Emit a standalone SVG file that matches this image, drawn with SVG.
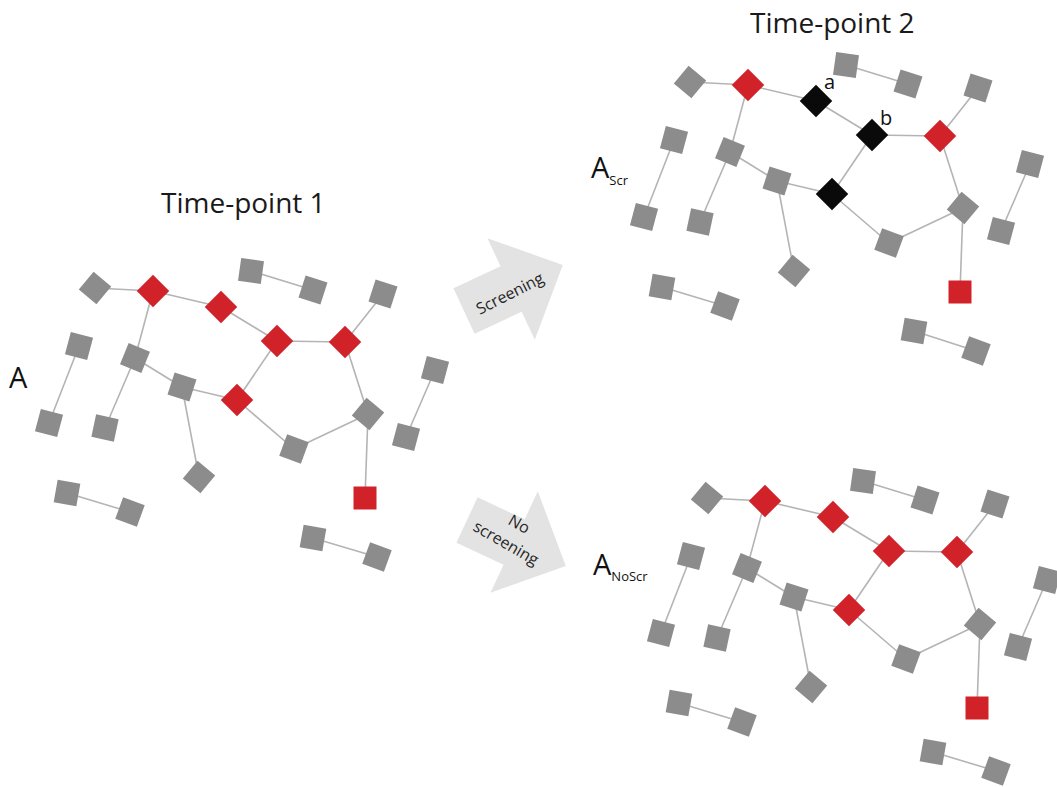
<svg xmlns="http://www.w3.org/2000/svg" width="1057" height="787" viewBox="0 0 1057 787">
  <style>
    .edge { stroke: #b4b4b4; stroke-width: 1.6; fill: none; }
    .gray { fill: #8c8c8c; }
    .red { fill: #d1222a; }
    .black { fill: #0a0a0a; }
    .title { font-family: "Open Sans", "Liberation Sans", sans-serif; font-size: 28px; fill: #1a1a1a; }
    .lbl { font-family: "Open Sans", "Liberation Sans", sans-serif; font-size: 29px; fill: #111; }
    .sub { font-family: "Open Sans", "Liberation Sans", sans-serif; font-size: 13px; fill: #111; }
    .tag { font-family: "Open Sans", "Liberation Sans", sans-serif; font-size: 20px; fill: #111; }
    .arrow { fill: #e3e3e3; }
    .arrowtxt { font-family: "Open Sans", "Liberation Sans", sans-serif; font-size: 16px; fill: #262626; text-anchor: middle; }
  </style>
  <defs>
    <rect id="sq" x="-11.5" y="-11.5" width="23" height="23"/>
    <polygon id="blockArrow" points="0,-25 52,-25 52,-56 109,0 52,56 52,25 0,25"/>
  </defs>

  <rect width="1057" height="787" fill="#ffffff"/>

  <!-- headings and panel labels -->
  <text class="title" x="161" y="213" font-size="27">Time-point 1</text>
  <text class="title" x="750" y="33">Time-point 2</text>
  <text class="lbl" x="9" y="388">A</text>
  <text class="lbl" x="591" y="178">A<tspan class="sub" dy="7">Scr</tspan></text>
  <text class="lbl" x="593" y="575">A<tspan class="sub" dy="6">NoScr</tspan></text>

  <!-- transition arrows -->
  <g id="arrow-screening" transform="translate(464,311) rotate(-25)">
    <use href="#blockArrow" class="arrow"/>
    <text class="arrowtxt" x="49" y="9" transform="rotate(-2 49 4)">Screening</text>
  </g>
  <g id="arrow-no-screening" transform="translate(467,520) rotate(25)">
    <use href="#blockArrow" class="arrow"/>
    <g transform="translate(46,-6) rotate(5)">
      <text class="arrowtxt" x="2" y="-7">No</text>
      <text class="arrowtxt" x="0" y="16">screening</text>
    </g>
  </g>

  <!-- ===== Network at time-point 1 ===== -->
  <g id="net-t1">
    <g id="t1-connectors">
      <line class="edge" x1="95" y1="288" x2="153" y2="291"/>
      <line class="edge" x1="153" y1="291" x2="221" y2="307"/>
      <line class="edge" x1="221" y1="307" x2="277" y2="341"/>
      <line class="edge" x1="277" y1="341" x2="345" y2="342"/>
      <line class="edge" x1="345" y1="342" x2="383" y2="294"/>
      <line class="edge" x1="153" y1="291" x2="135" y2="358"/>
      <line class="edge" x1="135" y1="358" x2="105" y2="428"/>
      <line class="edge" x1="135" y1="358" x2="182" y2="387"/>
      <line class="edge" x1="182" y1="387" x2="237" y2="400"/>
      <line class="edge" x1="182" y1="387" x2="199" y2="477"/>
      <line class="edge" x1="237" y1="400" x2="277" y2="341"/>
      <line class="edge" x1="237" y1="400" x2="294" y2="449"/>
      <line class="edge" x1="294" y1="449" x2="368" y2="414"/>
      <line class="edge" x1="345" y1="342" x2="368" y2="414"/>
      <line class="edge" x1="368" y1="414" x2="365" y2="498"/>
      <line class="edge" x1="251" y1="271" x2="313" y2="290"/>
      <line class="edge" x1="79" y1="346" x2="49" y2="423"/>
      <line class="edge" x1="435" y1="370" x2="406" y2="437"/>
      <line class="edge" x1="67" y1="493" x2="130" y2="512"/>
      <line class="edge" x1="313" y1="538" x2="377" y2="557"/>
    </g>
    <g id="t1-n1" transform="translate(95,288) rotate(40)"><use href="#sq" class="gray"/></g>
    <g id="t1-n2" transform="translate(153,291) rotate(45)"><use href="#sq" class="red"/></g>
    <g id="t1-n3" transform="translate(221,307) rotate(45)"><use href="#sq" class="red"/></g>
    <g id="t1-n4" transform="translate(277,341) rotate(45)"><use href="#sq" class="red"/></g>
    <g id="t1-n5" transform="translate(345,342) rotate(45)"><use href="#sq" class="red"/></g>
    <g id="t1-n6" transform="translate(237,400) rotate(45)"><use href="#sq" class="red"/></g>
    <g id="t1-n7" transform="translate(251,271) rotate(8)"><use href="#sq" class="gray"/></g>
    <g id="t1-n8" transform="translate(313,290) rotate(18)"><use href="#sq" class="gray"/></g>
    <g id="t1-n9" transform="translate(383,294) rotate(18)"><use href="#sq" class="gray"/></g>
    <g id="t1-n10" transform="translate(79,346) rotate(15)"><use href="#sq" class="gray"/></g>
    <g id="t1-n11" transform="translate(49,423) rotate(15)"><use href="#sq" class="gray"/></g>
    <g id="t1-n12" transform="translate(135,358) rotate(22)"><use href="#sq" class="gray"/></g>
    <g id="t1-n13" transform="translate(105,428) rotate(12)"><use href="#sq" class="gray"/></g>
    <g id="t1-n14" transform="translate(182,387) rotate(18)"><use href="#sq" class="gray"/></g>
    <g id="t1-n15" transform="translate(199,477) rotate(40)"><use href="#sq" class="gray"/></g>
    <g id="t1-n16" transform="translate(294,449) rotate(20)"><use href="#sq" class="gray"/></g>
    <g id="t1-n17" transform="translate(368,414) rotate(40)"><use href="#sq" class="gray"/></g>
    <g id="t1-n18" transform="translate(365,498)"><use href="#sq" class="red"/></g>
    <g id="t1-n19" transform="translate(435,370) rotate(15)"><use href="#sq" class="gray"/></g>
    <g id="t1-n20" transform="translate(406,437) rotate(15)"><use href="#sq" class="gray"/></g>
    <g id="t1-n21" transform="translate(67,493) rotate(10)"><use href="#sq" class="gray"/></g>
    <g id="t1-n22" transform="translate(130,512) rotate(20)"><use href="#sq" class="gray"/></g>
    <g id="t1-n23" transform="translate(313,538) rotate(10)"><use href="#sq" class="gray"/></g>
    <g id="t1-n24" transform="translate(377,557) rotate(20)"><use href="#sq" class="gray"/></g>
  </g>

  <!-- ===== Network at time-point 2, after screening ===== -->
  <g id="net-scr" transform="translate(595,-206)">
    <g id="scr-connectors">
      <line class="edge" x1="95" y1="288" x2="153" y2="291"/>
      <line class="edge" x1="153" y1="291" x2="221" y2="307"/>
      <line class="edge" x1="221" y1="307" x2="277" y2="341"/>
      <line class="edge" x1="277" y1="341" x2="345" y2="342"/>
      <line class="edge" x1="345" y1="342" x2="383" y2="294"/>
      <line class="edge" x1="153" y1="291" x2="135" y2="358"/>
      <line class="edge" x1="135" y1="358" x2="105" y2="428"/>
      <line class="edge" x1="135" y1="358" x2="182" y2="387"/>
      <line class="edge" x1="182" y1="387" x2="237" y2="400"/>
      <line class="edge" x1="182" y1="387" x2="199" y2="477"/>
      <line class="edge" x1="237" y1="400" x2="277" y2="341"/>
      <line class="edge" x1="237" y1="400" x2="294" y2="449"/>
      <line class="edge" x1="294" y1="449" x2="368" y2="414"/>
      <line class="edge" x1="345" y1="342" x2="368" y2="414"/>
      <line class="edge" x1="368" y1="414" x2="365" y2="498"/>
      <line class="edge" x1="251" y1="271" x2="313" y2="290"/>
      <line class="edge" x1="79" y1="346" x2="49" y2="423"/>
      <line class="edge" x1="435" y1="370" x2="406" y2="437"/>
      <line class="edge" x1="67" y1="493" x2="130" y2="512"/>
      <line class="edge" x1="319" y1="537" x2="381" y2="557"/>
    </g>
    <g id="scr-n1" transform="translate(95,288) rotate(40)"><use href="#sq" class="gray"/></g>
    <g id="scr-n2" transform="translate(153,291) rotate(45)"><use href="#sq" class="red"/></g>
    <g id="scr-n3" transform="translate(221,307) rotate(45)"><use href="#sq" class="black"/></g>
    <g id="scr-n4" transform="translate(277,341) rotate(45)"><use href="#sq" class="black"/></g>
    <g id="scr-n5" transform="translate(345,342) rotate(45)"><use href="#sq" class="red"/></g>
    <g id="scr-n6" transform="translate(237,400) rotate(45)"><use href="#sq" class="black"/></g>
    <g id="scr-n7" transform="translate(251,271) rotate(8)"><use href="#sq" class="gray"/></g>
    <g id="scr-n8" transform="translate(313,290) rotate(18)"><use href="#sq" class="gray"/></g>
    <g id="scr-n9" transform="translate(383,294) rotate(18)"><use href="#sq" class="gray"/></g>
    <g id="scr-n10" transform="translate(79,346) rotate(15)"><use href="#sq" class="gray"/></g>
    <g id="scr-n11" transform="translate(49,423) rotate(15)"><use href="#sq" class="gray"/></g>
    <g id="scr-n12" transform="translate(135,358) rotate(22)"><use href="#sq" class="gray"/></g>
    <g id="scr-n13" transform="translate(105,428) rotate(12)"><use href="#sq" class="gray"/></g>
    <g id="scr-n14" transform="translate(182,387) rotate(18)"><use href="#sq" class="gray"/></g>
    <g id="scr-n15" transform="translate(199,477) rotate(40)"><use href="#sq" class="gray"/></g>
    <g id="scr-n16" transform="translate(294,449) rotate(20)"><use href="#sq" class="gray"/></g>
    <g id="scr-n17" transform="translate(368,414) rotate(40)"><use href="#sq" class="gray"/></g>
    <g id="scr-n18" transform="translate(365,498)"><use href="#sq" class="red"/></g>
    <g id="scr-n19" transform="translate(435,370) rotate(15)"><use href="#sq" class="gray"/></g>
    <g id="scr-n20" transform="translate(406,437) rotate(15)"><use href="#sq" class="gray"/></g>
    <g id="scr-n21" transform="translate(67,493) rotate(10)"><use href="#sq" class="gray"/></g>
    <g id="scr-n22" transform="translate(130,512) rotate(20)"><use href="#sq" class="gray"/></g>
    <g id="scr-n23" transform="translate(319,537) rotate(10)"><use href="#sq" class="gray"/></g>
    <g id="scr-n24" transform="translate(381,557) rotate(20)"><use href="#sq" class="gray"/></g>
    <text class="tag" x="229" y="295">a</text>
    <text class="tag" x="285" y="331">b</text>
  </g>

  <!-- ===== Network at time-point 2, without screening ===== -->
  <g id="net-noscr" transform="translate(612,210)">
    <g id="noscr-connectors">
      <line class="edge" x1="95" y1="288" x2="153" y2="291"/>
      <line class="edge" x1="153" y1="291" x2="221" y2="307"/>
      <line class="edge" x1="221" y1="307" x2="277" y2="341"/>
      <line class="edge" x1="277" y1="341" x2="345" y2="342"/>
      <line class="edge" x1="345" y1="342" x2="383" y2="294"/>
      <line class="edge" x1="153" y1="291" x2="135" y2="358"/>
      <line class="edge" x1="135" y1="358" x2="105" y2="428"/>
      <line class="edge" x1="135" y1="358" x2="182" y2="387"/>
      <line class="edge" x1="182" y1="387" x2="237" y2="400"/>
      <line class="edge" x1="182" y1="387" x2="199" y2="477"/>
      <line class="edge" x1="237" y1="400" x2="277" y2="341"/>
      <line class="edge" x1="237" y1="400" x2="294" y2="449"/>
      <line class="edge" x1="294" y1="449" x2="368" y2="414"/>
      <line class="edge" x1="345" y1="342" x2="368" y2="414"/>
      <line class="edge" x1="368" y1="414" x2="365" y2="498"/>
      <line class="edge" x1="251" y1="271" x2="313" y2="290"/>
      <line class="edge" x1="79" y1="346" x2="49" y2="423"/>
      <line class="edge" x1="435" y1="370" x2="406" y2="437"/>
      <line class="edge" x1="67" y1="493" x2="130" y2="512"/>
      <line class="edge" x1="321" y1="542" x2="384" y2="561"/>
    </g>
    <g id="noscr-n1" transform="translate(95,288) rotate(40)"><use href="#sq" class="gray"/></g>
    <g id="noscr-n2" transform="translate(153,291) rotate(45)"><use href="#sq" class="red"/></g>
    <g id="noscr-n3" transform="translate(221,307) rotate(45)"><use href="#sq" class="red"/></g>
    <g id="noscr-n4" transform="translate(277,341) rotate(45)"><use href="#sq" class="red"/></g>
    <g id="noscr-n5" transform="translate(345,342) rotate(45)"><use href="#sq" class="red"/></g>
    <g id="noscr-n6" transform="translate(237,400) rotate(45)"><use href="#sq" class="red"/></g>
    <g id="noscr-n7" transform="translate(251,271) rotate(8)"><use href="#sq" class="gray"/></g>
    <g id="noscr-n8" transform="translate(313,290) rotate(18)"><use href="#sq" class="gray"/></g>
    <g id="noscr-n9" transform="translate(383,294) rotate(18)"><use href="#sq" class="gray"/></g>
    <g id="noscr-n10" transform="translate(79,346) rotate(15)"><use href="#sq" class="gray"/></g>
    <g id="noscr-n11" transform="translate(49,423) rotate(15)"><use href="#sq" class="gray"/></g>
    <g id="noscr-n12" transform="translate(135,358) rotate(22)"><use href="#sq" class="gray"/></g>
    <g id="noscr-n13" transform="translate(105,428) rotate(12)"><use href="#sq" class="gray"/></g>
    <g id="noscr-n14" transform="translate(182,387) rotate(18)"><use href="#sq" class="gray"/></g>
    <g id="noscr-n15" transform="translate(199,477) rotate(40)"><use href="#sq" class="gray"/></g>
    <g id="noscr-n16" transform="translate(294,449) rotate(20)"><use href="#sq" class="gray"/></g>
    <g id="noscr-n17" transform="translate(368,414) rotate(40)"><use href="#sq" class="gray"/></g>
    <g id="noscr-n18" transform="translate(365,498)"><use href="#sq" class="red"/></g>
    <g id="noscr-n19" transform="translate(435,370) rotate(15)"><use href="#sq" class="gray"/></g>
    <g id="noscr-n20" transform="translate(406,437) rotate(15)"><use href="#sq" class="gray"/></g>
    <g id="noscr-n21" transform="translate(67,493) rotate(10)"><use href="#sq" class="gray"/></g>
    <g id="noscr-n22" transform="translate(130,512) rotate(20)"><use href="#sq" class="gray"/></g>
    <g id="noscr-n23" transform="translate(321,542) rotate(10)"><use href="#sq" class="gray"/></g>
    <g id="noscr-n24" transform="translate(384,561) rotate(20)"><use href="#sq" class="gray"/></g>
  </g>
</svg>
